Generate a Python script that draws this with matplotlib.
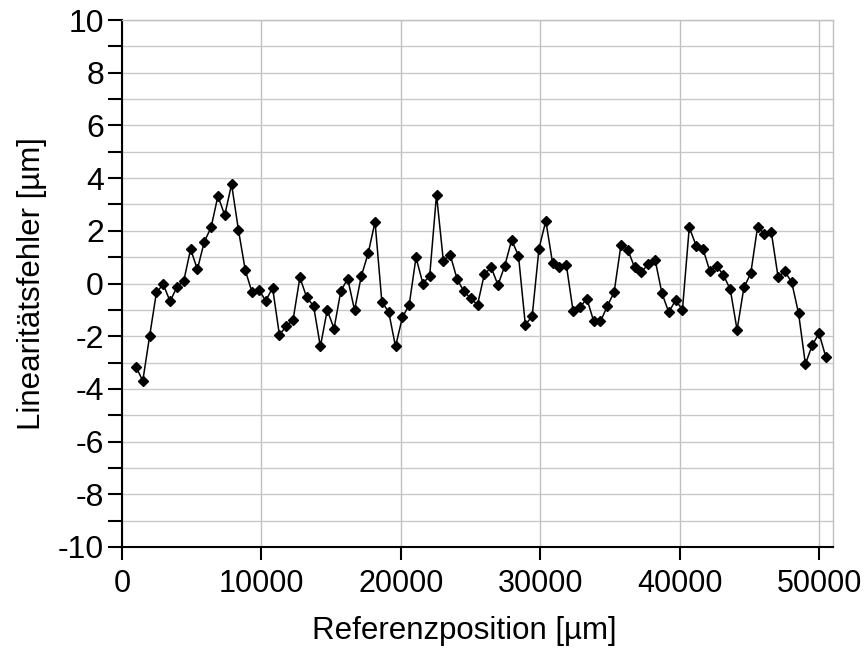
import matplotlib
matplotlib.use("Agg")
import matplotlib.pyplot as plt
from matplotlib.ticker import MultipleLocator

plt.rcParams['font.family'] = ['Liberation Sans', 'DejaVu Sans']
plt.rcParams['axes.unicode_minus'] = False

# Reference positions [µm]
position = [
    1000, 1490, 1980, 2470, 2960, 3450, 3940, 4430, 4920, 5410,
    5900, 6390, 6880, 7370, 7860, 8350, 8840, 9330, 9820, 10310,
    10800, 11290, 11780, 12270, 12760, 13250, 13740, 14230, 14720, 15210,
    15700, 16190, 16680, 17170, 17660, 18150, 18640, 19130, 19620, 20110,
    20600, 21090, 21580, 22070, 22560, 23050, 23540, 24030, 24520, 25010,
    25500, 25990, 26480, 26970, 27460, 27950, 28440, 28930, 29420, 29910,
    30400, 30890, 31380, 31870, 32360, 32850, 33340, 33830, 34320, 34810,
    35300, 35790, 36280, 36770, 37260, 37750, 38240, 38730, 39220, 39710,
    40200, 40690, 41180, 41670, 42160, 42650, 43140, 43630, 44120, 44610,
    45100, 45590, 46080, 46570, 47060, 47550, 48040, 48530, 49020, 49510,
    50000, 50490,
]

# Linearity error [µm]
error = [
    -3.15, -3.70, -2.00, -0.34, -0.03, -0.68, -0.13, 0.10, 1.30, 0.54,
    1.58, 2.13, 3.32, 2.59, 3.77, 2.04, 0.51, -0.34, -0.23, -0.66,
    -0.16, -1.95, -1.63, -1.38, 0.23, -0.53, -0.85, -2.39, -1.01, -1.71,
    -0.28, 0.18, -1.01, 0.29, 1.15, 2.34, -0.70, -1.08, -2.39, -1.29,
    -0.81, 0.99, 0.00, 0.29, 3.37, 0.86, 1.09, 0.18, -0.30, -0.56,
    -0.81, 0.35, 0.61, -0.06, 0.68, 1.65, 1.05, -1.56, -1.25, 1.32,
    2.38, 0.76, 0.61, 0.71, -1.06, -0.91, -0.57, -1.42, -1.44, -0.86,
    -0.33, 1.46, 1.28, 0.61, 0.44, 0.73, 0.90, -0.37, -1.09, -0.63,
    -1.00, 2.13, 1.44, 1.32, 0.48, 0.67, 0.32, -0.22, -1.76, -0.15,
    0.38, 2.15, 1.89, 1.96, 0.25, 0.46, 0.04, -1.13, -3.06, -2.34,
    -1.89, -2.80,
]

x_ticks = [0, 10000, 20000, 30000, 40000, 50000]
y_ticks = [-10, -8, -6, -4, -2, 0, 2, 4, 6, 8, 10]

fig = plt.figure(figsize=(8.67, 6.53), dpi=100)
ax = fig.add_axes([122 / 867, 1 - 547 / 653, (833 - 122) / 867, (547 - 20) / 653])

ax.plot(position, error, color='black', linewidth=1.1, marker='D',
        markersize=5.5, markerfacecolor='black', markeredgecolor='black',
        zorder=3)

ax.set_xlim(0, 51000)
ax.set_ylim(-10, 10)
ax.set_xticks(x_ticks)
ax.set_yticks(y_ticks)
ax.yaxis.set_minor_locator(MultipleLocator(1))

ax.grid(True, which='major', axis='x', color='#c0c0c0', linewidth=1.0)
ax.grid(True, which='both', axis='y', color='#c8c8c8', linewidth=1.0)
ax.set_axisbelow(True)

for side in ('top', 'right'):
    ax.spines[side].set_color('#c0c0c0')
    ax.spines[side].set_linewidth(1.0)
for side in ('left', 'bottom'):
    ax.spines[side].set_color('black')
    ax.spines[side].set_linewidth(1.5)

ax.tick_params(axis='y', which='both', direction='out', length=10, width=1.5,
               labelsize=23, pad=3, color='black')
ax.tick_params(axis='x', which='major', direction='out', length=9, width=1.5,
               labelsize=22, pad=7, color='black')

ax.set_xlabel('Referenzposition [µm]', fontsize=22.5)
ax.set_ylabel('Linearitätsfehler [µm]', fontsize=22.5, labelpad=8)
ax.xaxis.set_label_coords(0.482, -0.13)

fig.savefig('out.png', dpi=100)
